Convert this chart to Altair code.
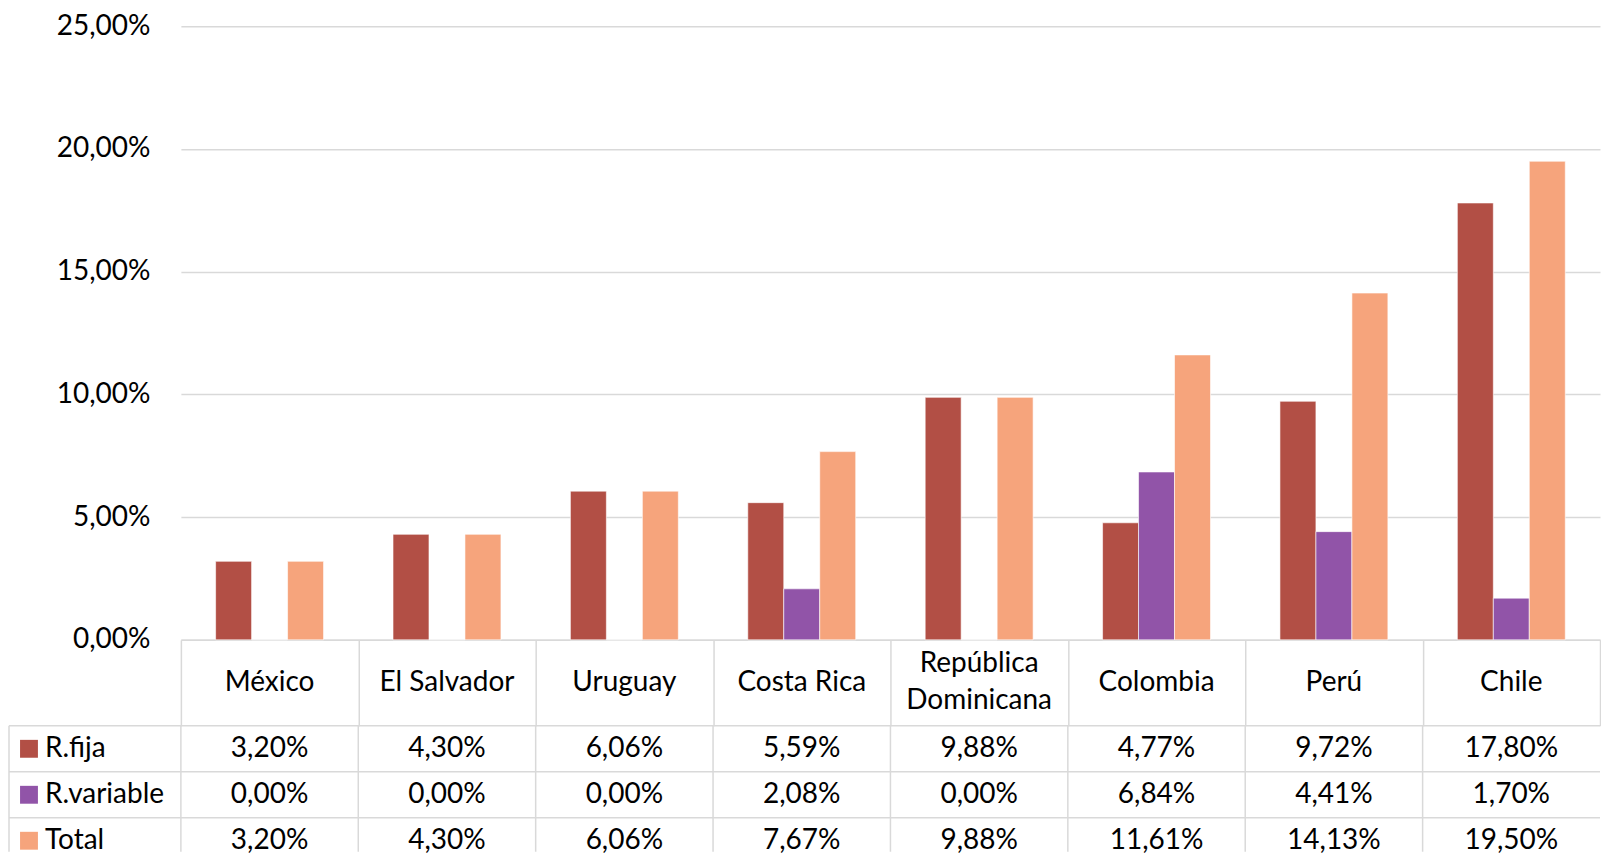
import altair as alt
import pandas as pd

paises = ["México", "El Salvador", "Uruguay", "Costa Rica", "República Dominicana",
          "Colombia", "Perú", "Chile"]
series = ["R.fija", "R.variable", "Total"]
r_fija = [3.20, 4.30, 6.06, 5.59, 9.88, 4.77, 9.72, 17.80]
r_variable = [0.00, 0.00, 0.00, 2.08, 0.00, 6.84, 4.41, 1.70]
total = [3.20, 4.30, 6.06, 7.67, 9.88, 11.61, 14.13, 19.50]
colores = ["#B24F45", "#9154A8", "#F6A47C"]
y_ticks = [0, 5, 10, 15, 20, 25]

rows = []
for s, vals in zip(series, [r_fija, r_variable, total]):
    for p, v in zip(paises, vals):
        rows.append({"pais": p, "serie": s, "valor": v})
df = pd.DataFrame(rows)
df_series = pd.DataFrame({"serie": series})
df_paises = pd.DataFrame({"pais": paises})

W = 1420
H = 614
STEP = W / 8
BAR = 36
HEADER = 86
ROW = 46
TH = 126
FONT = "Lato"
FS = 28
GRID = "#D9D9D9"
TXT = "#000000"
LH = 37

po = (STEP / BAR - 3) / 2

color_enc = alt.Color("serie:N", scale=alt.Scale(domain=series, range=colores), legend=None)
x_scale = alt.Scale(domain=paises, paddingInner=0, paddingOuter=0)

x_bar = alt.X(
    "pais:N", sort=paises, scale=x_scale,
    axis=alt.Axis(
        title=None, labels=False, domainColor=GRID, domainWidth=1.5,
        tickBand="extent", tickSize=HEADER, tickColor=GRID, tickWidth=1.5,
    ),
)
y_bar = alt.Y(
    "valor:Q", scale=alt.Scale(domain=[0, 25]),
    axis=alt.Axis(
        title=None, values=y_ticks,
        labelExpr="replace(format(datum.value, '.2f'), '.', ',') + '%'",
        domain=False, ticks=False, gridColor=GRID, gridWidth=1.5,
        labelPadding=31, labelFontSize=FS, labelFont=FONT, labelColor=TXT,
    ),
)

bars = alt.Chart(df).mark_bar(stroke="white", strokeWidth=0.6).encode(
    x=x_bar,
    y=y_bar,
    xOffset=alt.XOffset("serie:N", sort=series,
                        scale=alt.Scale(domain=series, paddingInner=0, paddingOuter=po)),
    color=color_enc,
)

cat_one = alt.Chart(df_paises).transform_filter(
    "indexof(datum.pais, ' ') < 0 || datum.pais != 'República Dominicana'"
).transform_filter(
    "datum.pais != 'República Dominicana'"
).mark_text(fontSize=FS, font=FONT, color=TXT, baseline="middle").encode(
    x=alt.X("pais:N", sort=paises), y=alt.value(H + HEADER / 2), text="pais:N"
)
cat_two = alt.Chart(df_paises).transform_filter(
    "datum.pais == 'República Dominicana'"
).transform_calculate(
    etiqueta="replace(datum.pais, ' ', '\\n')"
).mark_text(fontSize=FS, font=FONT, color=TXT, baseline="middle", lineBreak="\n",
            lineHeight=LH).encode(
    x=alt.X("pais:N", sort=paises), y=alt.value(H + HEADER / 2 - LH / 2), text="etiqueta:N"
)

top = alt.layer(bars, cat_one, cat_two).properties(width=W, height=H)

x_cat = alt.X("pais:N", sort=paises, scale=x_scale, axis=None)
y_row = alt.Y("serie:N", sort=series,
              scale=alt.Scale(domain=series, range=[0, 3 * ROW], paddingInner=0, paddingOuter=0),
              axis=None)

valores = alt.Chart(df).transform_calculate(
    etiqueta="replace(format(datum.valor, '.2f'), '.', ',') + '%'"
).mark_text(fontSize=FS, font=FONT, color=TXT).encode(
    x=x_cat, y=y_row, text="etiqueta:N"
)

h_lines = alt.Chart(df_series).mark_rule(color=GRID, strokeWidth=1.5).encode(
    y=alt.Y("serie:N", sort=series, bandPosition=0,
            scale=alt.Scale(domain=series, range=[0, 3 * ROW], paddingInner=0, paddingOuter=0),
            axis=None),
    x=alt.value(-172), x2=alt.value(W),
)
v_lines = alt.Chart(df_paises).mark_rule(color=GRID, strokeWidth=1.5).encode(
    x=alt.X("pais:N", sort=paises, bandPosition=0, scale=x_scale, axis=None),
    y=alt.value(0), y2=alt.value(TH),
)
left_line = alt.Chart(df_series.head(1)).mark_rule(color=GRID, strokeWidth=1.5).encode(
    x=alt.value(-172), y=alt.value(0), y2=alt.value(TH),
)
squares = alt.Chart(df_series).mark_point(shape="square", filled=True, size=320, opacity=1).encode(
    x=alt.value(-152), y=y_row, color=color_enc,
)
row_labels = alt.Chart(df_series).mark_text(align="left", fontSize=FS, font=FONT, color=TXT).encode(
    x=alt.value(-136), y=y_row, text="serie:N",
)

tabla = alt.layer(h_lines, v_lines, left_line, squares, row_labels, valores).properties(
    width=W, height=TH
)

chart = alt.vconcat(top, tabla, spacing=HEADER).properties(
    bounds="flush",
    padding={"left": 0, "top": 4, "right": 0, "bottom": 0},
).configure_view(stroke=None)

chart.save("out.html", embed_options={"renderer": "svg", "actions": False})
